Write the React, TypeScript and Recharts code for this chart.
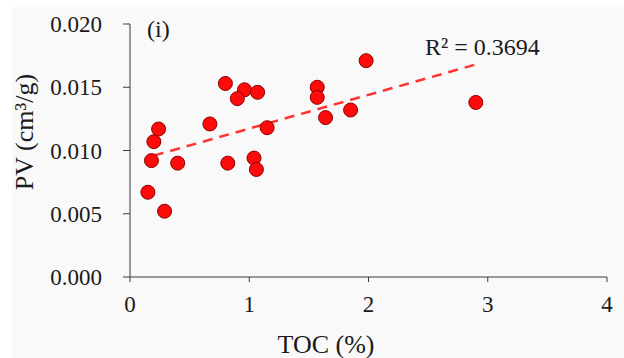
import React from "react";
import { ScatterChart, Scatter, XAxis, YAxis, ReferenceLine, Customized } from "recharts";

// TOC (%) vs pore volume (cm³/g)
const tocValues = [
  0.8, 0.96, 0.9, 1.07, 0.24, 0.2, 0.67, 1.15, 0.18, 0.4, 0.82,
  1.04, 1.06, 1.57, 1.57, 1.64, 1.85, 1.98, 2.9, 0.15, 0.29,
];
const pvValues = [
  0.0153, 0.0148, 0.0141, 0.0146, 0.0117, 0.0107, 0.0121, 0.0118, 0.0092, 0.009, 0.009,
  0.0094, 0.0085, 0.015, 0.0142, 0.0126, 0.0132, 0.0171, 0.0138, 0.0067, 0.0052,
];
const xTicks = [0, 1, 2, 3, 4];
const yTicks = [0, 0.005, 0.01, 0.015, 0.02];
// linear trendline end points
const trendX = [0.2, 2.9];
const trendY = [0.0096, 0.0168];

const points = tocValues.map((x, i) => ({ x, y: pvValues[i] }));

const FONT = '"Liberation Serif", "Times New Roman", serif';
const TEXT = "#1a1a1a";
const AXIS = "#3a3a3a";

const Dot = (props: any) => {
  const { cx, cy } = props;
  return <circle cx={cx} cy={cy} r={7} fill="#ff0a0a" stroke="#8a0000" strokeWidth={1} />;
};

const Annotations = () => (
  <g fontFamily={FONT} fill={TEXT}>
    <text x={147} y={37} fontSize={24}>(i)</text>
    <text x={425} y={55} fontSize={24}>R² = 0.3694</text>
    <text x={326} y={353} fontSize={26} textAnchor="middle">TOC (%)</text>
    <text x={0} y={0} fontSize={26} textAnchor="middle" transform="translate(33,132) rotate(-90)">
      PV (cm³/g)
    </text>
  </g>
);

export default function App() {
  return (
    <div style={{ position: "absolute", left: 0, top: 0, width: 624, height: 358, background: "#fff" }}>
      <div style={{ position: "absolute", left: 12, top: 7, right: 0, bottom: 0, background: "#f9f9f9" }} />
      <div style={{ position: "absolute", left: 0, top: 0 }}>
        <ScatterChart width={624} height={358} margin={{ top: 24, right: 17, bottom: 0, left: 0 }}>
          <XAxis
            type="number"
            dataKey="x"
            domain={[0, 4]}
            ticks={xTicks}
            height={81}
            tickSize={5}
            tickMargin={14}
            stroke={AXIS}
            tick={{ fill: TEXT, fontSize: 23, fontFamily: FONT }}
          />
          <YAxis
            type="number"
            dataKey="y"
            domain={[0, 0.02]}
            ticks={yTicks}
            width={130}
            tickSize={7}
            tickMargin={21}
            stroke={AXIS}
            tickFormatter={(v: number) => v.toFixed(3)}
            tick={{ fill: TEXT, fontSize: 23, fontFamily: FONT }}
          />
          <ReferenceLine
            segment={[
              { x: trendX[0], y: trendY[0] },
              { x: trendX[1], y: trendY[1] },
            ]}
            stroke="#ff3333"
            strokeWidth={2.5}
            strokeDasharray="10 7"
          />
          <Scatter data={points} shape={Dot} isAnimationActive={false} />
          <Customized component={Annotations} />
        </ScatterChart>
      </div>
    </div>
  );
}
